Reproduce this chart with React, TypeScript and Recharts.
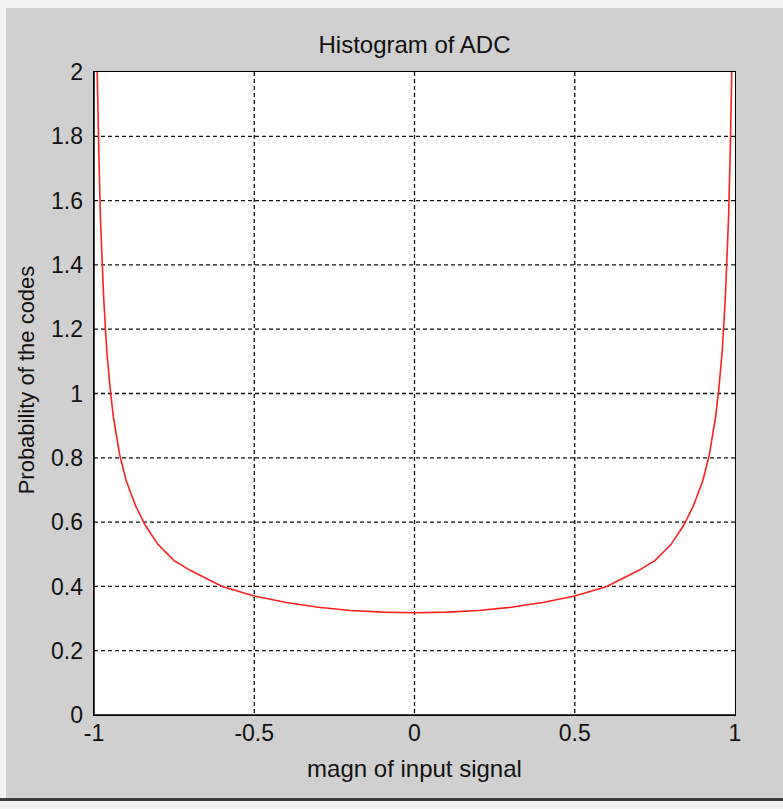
import React from "react";
import {
  LineChart,
  Line,
  XAxis,
  YAxis,
  CartesianGrid,
} from "recharts";

// values
const magn = [
  -0.99, -0.985, -0.98, -0.97, -0.96, -0.95, -0.94, -0.92, -0.9, -0.87, -0.84,
  -0.8, -0.75, -0.7, -0.6, -0.5, -0.4, -0.3, -0.2, -0.1, 0, 0.1, 0.2, 0.3, 0.4,
  0.5, 0.6, 0.7, 0.75, 0.8, 0.84, 0.87, 0.9, 0.92, 0.94, 0.95, 0.96, 0.97, 0.98,
  0.985, 0.99,
];
const prob = [
  2.0, 1.75, 1.55, 1.3, 1.13, 1.02, 0.93, 0.81, 0.73, 0.65, 0.59, 0.53, 0.48,
  0.45, 0.4, 0.37, 0.35, 0.335, 0.325, 0.32, 0.318, 0.32, 0.325, 0.335, 0.35,
  0.37, 0.4, 0.45, 0.48, 0.53, 0.59, 0.65, 0.73, 0.81, 0.93, 1.02, 1.13, 1.3,
  1.55, 1.75, 2.0,
];
const xTicks = [-1, -0.5, 0, 0.5, 1];
const yTicks = [0, 0.2, 0.4, 0.6, 0.8, 1, 1.2, 1.4, 1.6, 1.8, 2];

const data = magn.map((m, i) => ({ m, p: prob[i] }));

const FONT = "'Liberation Sans', Arial, sans-serif";
const tickStyle = { fill: "#111", fontSize: 23, fontFamily: FONT };

export default function App() {
  return (
    <div
      style={{
        position: "absolute",
        left: 0,
        top: 0,
        width: 783,
        height: 809,
        background: "#f2f2f2",
        overflow: "hidden",
        fontFamily: FONT,
      }}
    >
      <div
        style={{
          position: "absolute",
          left: 6,
          top: 8,
          width: 777,
          height: 790,
          background: "#d0d0d0",
        }}
      />
      <div
        style={{
          position: "absolute",
          left: 0,
          top: 798,
          width: 783,
          height: 3,
          background: "#3a3a3a",
        }}
      />
      <div
        style={{
          position: "absolute",
          left: 0,
          top: 31,
          width: 829,
          textAlign: "center",
          fontSize: 24,
          color: "#111",
        }}
      >
        Histogram of ADC
      </div>
      <div
        style={{
          position: "absolute",
          left: 0,
          top: 755,
          width: 829,
          textAlign: "center",
          fontSize: 24,
          color: "#111",
        }}
      >
        magn of input signal
      </div>
      <div
        style={{
          position: "absolute",
          left: 27,
          top: 380,
          transform: "translate(-50%, -50%) rotate(-90deg)",
          whiteSpace: "nowrap",
          fontSize: 22,
          color: "#111",
        }}
      >
        Probability of the codes
      </div>
      <div style={{ position: "absolute", left: 0, top: 0 }}>
        <LineChart
          width={783}
          height={809}
          data={data}
          margin={{ top: 72, right: 48, left: 34, bottom: 54 }}
        >
          <CartesianGrid
            fill="#ffffff"
            fillOpacity={1}
            stroke="#111"
            strokeWidth={1.3}
            strokeDasharray="4 3"
            horizontalValues={yTicks.slice(1, -1)}
            verticalValues={xTicks.slice(1, -1)}
          />
          <XAxis
            dataKey="m"
            type="number"
            domain={[-1, 1]}
            ticks={xTicks}
            tickLine={false}
            axisLine={{ stroke: "#000", strokeWidth: 1.5 }}
            tick={tickStyle}
            tickMargin={4}
            height={40}
            interval={0}
          />
          <YAxis
            type="number"
            domain={[0, 2]}
            ticks={yTicks}
            tickLine={false}
            axisLine={{ stroke: "#000", strokeWidth: 1.5 }}
            tick={tickStyle}
            tickMargin={5}
            width={60}
            interval={0}
            allowDataOverflow
          />
          <Line
            type="linear"
            dataKey="p"
            stroke="#ff2020"
            strokeWidth={1.6}
            dot={false}
            isAnimationActive={false}
          />
        </LineChart>
      </div>
      {/* box around the plot area, like the MATLAB axes frame */}
      <div
        style={{
          position: "absolute",
          left: 93,
          top: 71,
          width: 641,
          height: 643,
          border: "1.5px solid #000",
          pointerEvents: "none",
        }}
      />
    </div>
  );
}
